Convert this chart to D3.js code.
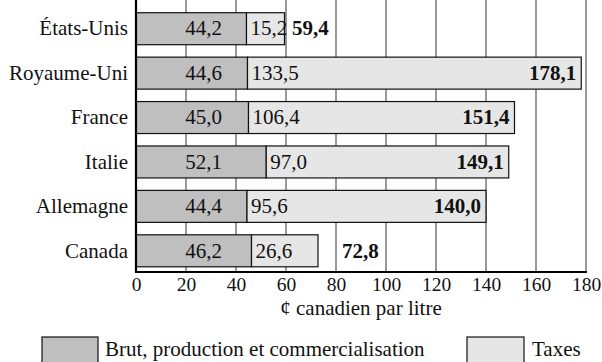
<!DOCTYPE html>
<html>
<head>
<meta charset="utf-8">
<script src="https://cdn.jsdelivr.net/npm/d3@7"></script>
<style>
  html, body { margin: 0; padding: 0; background: #fff; }
  svg { display: block; }
  svg text { font-family: 'Liberation Serif', 'Times New Roman', Times, serif !important; fill: #111; }
</style>
</head>
<body>
<div id="chart"></div>
<script>
const countries = ["États-Unis", "Royaume-Uni", "France", "Italie", "Allemagne", "Canada"];
const crude = [44.2, 44.6, 45.0, 52.1, 44.4, 46.2];
const taxes = [15.2, 133.5, 106.4, 97.0, 95.6, 26.6];
const totals = [59.4, 178.1, 151.4, 149.1, 140.0, 72.8];
const crudeLabels = ["44,2", "44,6", "45,0", "52,1", "44,4", "46,2"];
const taxLabels = ["15,2", "133,5", "106,4", "97,0", "95,6", "26,6"];
const totalLabels = ["59,4", "178,1", "151,4", "149,1", "140,0", "72,8"];
const xTicks = [0, 20, 40, 60, 80, 100, 120, 140, 160, 180];
const xTitle = "¢ canadien par litre";
const legendNames = ["Brut, production et commercialisation", "Taxes"];

const W = 602, H = 362;
const FS = 21;
const FS_TICK = 19.5;
const FONT = "'Liberation Serif', 'Times New Roman', Times, serif";
const cCrude = "#bfbfbf", cTax = "#e6e6e6";

const svg = d3.select("#chart").append("svg").attr("width", W).attr("height", H)
  .attr("font-family", FONT);

const x = d3.scaleLinear().domain([0, 180]).range([136, 586]);
const y = d3.scaleBand().domain(countries).range([6.5, 273]).paddingInner(0.28).paddingOuter(0.14);
const axisY = 272;

// gridlines
svg.append("g").selectAll("line").data(xTicks.filter(d => d > 0)).join("line")
  .attr("x1", d => x(d)).attr("x2", d => x(d))
  .attr("y1", 0).attr("y2", axisY)
  .attr("stroke", "#777").attr("stroke-width", 1.5);

const rows = countries.map((c, i) => ({ c, i, crude: crude[i], tax: taxes[i], total: totals[i] }));

const g = svg.append("g");
g.selectAll("rect.crude").data(rows).join("rect").attr("class", "crude")
  .attr("x", x(0)).attr("y", d => y(d.c))
  .attr("width", d => x(d.crude) - x(0)).attr("height", y.bandwidth())
  .attr("fill", cCrude).attr("stroke", "#111").attr("stroke-width", 1.2);
g.selectAll("rect.tax").data(rows).join("rect").attr("class", "tax")
  .attr("x", d => x(d.crude)).attr("y", d => y(d.c))
  .attr("width", d => x(d.crude + d.tax) - x(d.crude)).attr("height", y.bandwidth())
  .attr("fill", cTax).attr("stroke", "#111").attr("stroke-width", 1.2);

const mid = d => y(d.c) + y.bandwidth() / 2;

function txt(sel, fs) {
  return sel.style("font-family", FONT).attr("font-size", fs || FS);
}

txt(g.selectAll("text.cl").data(rows).join("text").attr("class", "cl"))
  .attr("x", x(27)).attr("y", mid).attr("dy", "0.32em")
  .attr("text-anchor", "middle")
  .text(d => crudeLabels[d.i]);
txt(g.selectAll("text.tl").data(rows).join("text").attr("class", "tl"))
  .attr("x", d => x(d.crude) + 4).attr("y", mid).attr("dy", "0.32em")
  .attr("text-anchor", "start")
  .text(d => taxLabels[d.i]);
txt(g.selectAll("text.tot").data(rows).join("text").attr("class", "tot"))
  .attr("x", d => d.total >= 100 ? x(d.total) - 5 : x(Math.ceil(d.total / 20) * 20) + 6)
  .attr("y", mid).attr("dy", "0.32em")
  .attr("text-anchor", d => d.total >= 100 ? "end" : "start")
  .attr("font-weight", "bold")
  .text(d => totalLabels[d.i]);

txt(svg.append("g").selectAll("text").data(rows).join("text"))
  .attr("x", 128).attr("y", mid).attr("dy", "0.32em")
  .attr("text-anchor", "end")
  .text(d => d.c);

svg.append("line").attr("x1", 136).attr("x2", 136).attr("y1", 0).attr("y2", axisY + 1)
  .attr("stroke", "#000").attr("stroke-width", 2.2);
svg.append("line").attr("x1", 135).attr("x2", x(180) + 1).attr("y1", axisY).attr("y2", axisY)
  .attr("stroke", "#000").attr("stroke-width", 2.2);

const xAxis = d3.axisBottom(x).tickValues(xTicks).tickSize(0).tickPadding(0).tickFormat(d3.format("d"));
const ax = svg.append("g").attr("transform", `translate(0,${axisY})`).call(xAxis)
  .attr("font-family", FONT);
ax.select(".domain").remove();
txt(ax.selectAll("text"), FS_TICK).attr("fill", "#111").attr("dy", null).attr("y", 19);

txt(svg.append("text")).attr("x", (x(0) + x(180)) / 2).attr("y", 314.5)
  .attr("text-anchor", "middle").text(xTitle);

const legend = [
  { name: legendNames[0], fill: cCrude, bx: 42, bw: 56, tx: 105 },
  { name: legendNames[1], fill: cTax, bx: 467, bw: 57, tx: 532 }
];
const lg = svg.append("g").selectAll("g").data(legend).join("g");
lg.append("rect").attr("x", d => d.bx).attr("y", 337).attr("width", d => d.bw).attr("height", 30)
  .attr("fill", d => d.fill).attr("stroke", "#111").attr("stroke-width", 1.2);
txt(lg.append("text")).attr("x", d => d.tx).attr("y", 356).text(d => d.name);
</script>
</body>
</html>
